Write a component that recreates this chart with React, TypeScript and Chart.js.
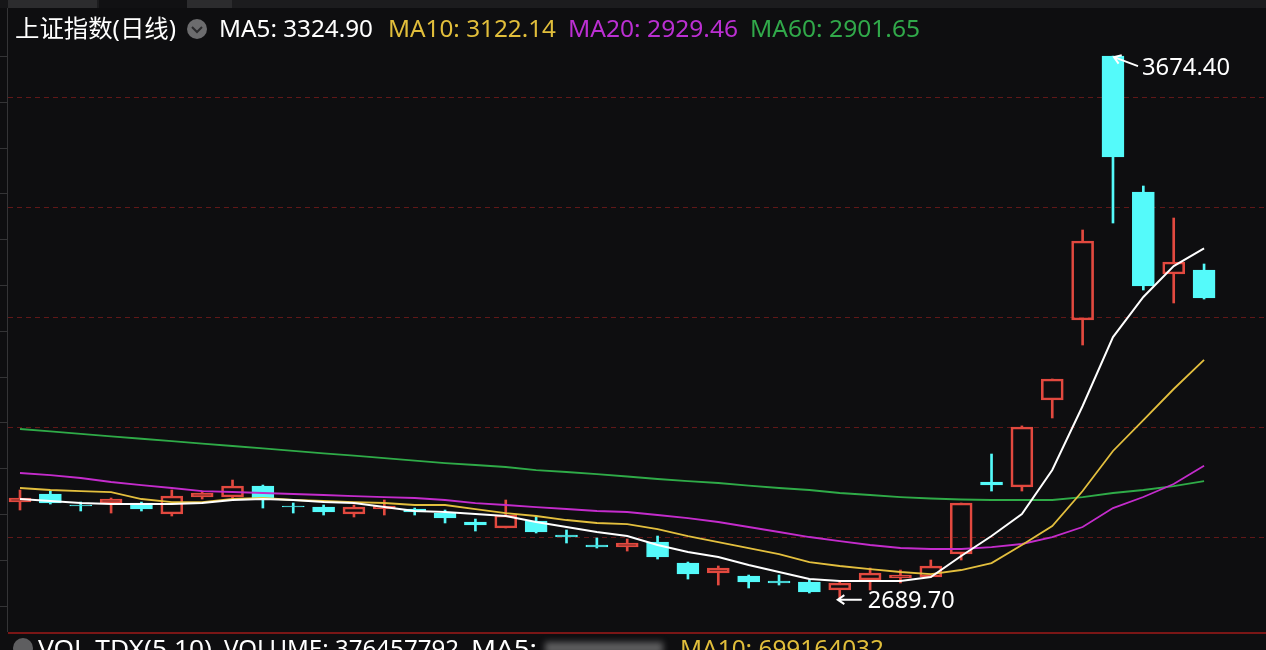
import React, { useEffect, useRef } from "react";
import { Chart, registerables } from "chart.js";

Chart.register(...registerables);

// ---- data (Shanghai Composite, daily) ----
const opens = [2863.6, 2878.2, 2858.2, 2861.8, 2861.8, 2841.8, 2872.7, 2872.7, 2892.7, 2856.4, 2854.5, 2841.8, 2850.9, 2850.9, 2843.6, 2827.3, 2816.4, 2829.1, 2803.6, 2785.5, 2781.8, 2790.9, 2752.7, 2734.5, 2729.1, 2720.0, 2718.2, 2703.6, 2721.8, 2725.5, 2727.3, 2769.1, 2900.0, 2890.9, 3049.1, 3194.5, 3674.4, 3427.3, 3278.2, 3285.5];
const highs = [2885.5, 2883.6, 2863.6, 2870.9, 2863.6, 2885.5, 2883.6, 2903.6, 2894.5, 2861.8, 2858.2, 2858.2, 2867.3, 2852.7, 2849.1, 2832.7, 2867.3, 2838.2, 2812.7, 2798.2, 2796.4, 2801.8, 2754.5, 2747.3, 2730.9, 2730.9, 2721.8, 2720.0, 2743.6, 2740.0, 2758.2, 2861.8, 2950.9, 3002.0, 3087.3, 3358.2, 3674.4, 3438.2, 3380.0, 3296.4];
const lows = [2849.1, 2860.0, 2847.3, 2843.6, 2847.3, 2838.2, 2869.1, 2870.9, 2852.7, 2843.6, 2840.0, 2836.4, 2840.0, 2840.0, 2825.5, 2810.9, 2816.4, 2807.3, 2789.1, 2780.0, 2774.5, 2760.0, 2723.6, 2712.7, 2707.3, 2712.7, 2698.2, 2689.7, 2703.6, 2716.4, 2727.3, 2758.2, 2883.6, 2883.6, 3016.4, 3149.1, 3370.9, 3249.1, 3225.5, 3232.7];
const closes = [2870.9, 2861.8, 2856.4, 2869.1, 2850.9, 2874.5, 2880.0, 2892.7, 2869.1, 2854.5, 2845.5, 2854.5, 2856.4, 2845.5, 2834.5, 2821.8, 2840.0, 2809.1, 2800.0, 2781.8, 2789.1, 2763.6, 2732.7, 2743.6, 2718.2, 2716.4, 2700.0, 2716.4, 2734.5, 2730.9, 2747.3, 2861.8, 2894.5, 3000.0, 3087.3, 3338.2, 3490.9, 3256.4, 3300.0, 3234.5];

const ma5 = [2869.1, 2865.5, 2861.8, 2860.0, 2860.0, 2860.0, 2861.8, 2867.3, 2869.1, 2867.3, 2863.6, 2861.8, 2854.5, 2847.3, 2845.5, 2841.8, 2838.2, 2827.3, 2818.2, 2809.1, 2801.8, 2785.5, 2772.7, 2763.6, 2749.1, 2736.4, 2723.6, 2720.0, 2720.0, 2720.0, 2727.3, 2765.5, 2801.8, 2841.8, 2921.8, 3038.2, 3163.6, 3236.4, 3292.7, 3324.90];
const ma10 = [2889.1, 2885.5, 2883.6, 2881.8, 2869.1, 2863.6, 2863.6, 2869.1, 2870.9, 2867.3, 2865.5, 2863.6, 2861.8, 2858.2, 2858.2, 2850.9, 2843.6, 2838.2, 2830.9, 2825.5, 2823.6, 2814.5, 2801.8, 2790.9, 2780.0, 2769.1, 2754.5, 2747.3, 2741.8, 2736.4, 2732.7, 2740.0, 2752.7, 2785.5, 2820.0, 2883.6, 2956.4, 3012.7, 3069.1, 3122.14];
const ma20 = [2916.4, 2912.7, 2907.3, 2900.0, 2894.5, 2889.1, 2883.6, 2881.8, 2880.0, 2878.2, 2876.4, 2874.5, 2872.7, 2870.9, 2867.3, 2861.8, 2858.2, 2854.5, 2850.9, 2847.3, 2845.5, 2840.0, 2834.5, 2827.3, 2818.2, 2809.1, 2800.0, 2792.7, 2785.5, 2780.0, 2778.2, 2778.2, 2781.8, 2787.3, 2800.0, 2818.2, 2852.7, 2872.7, 2896.4, 2929.46];
const ma60 = [2996.4, 2992.0, 2987.5, 2983.1, 2978.7, 2974.2, 2969.8, 2965.5, 2961.1, 2956.7, 2952.2, 2947.8, 2943.5, 2938.9, 2934.5, 2930.9, 2927.3, 2921.8, 2918.2, 2914.5, 2910.0, 2905.5, 2901.8, 2898.2, 2893.6, 2889.1, 2885.5, 2880.0, 2876.4, 2872.7, 2870.0, 2868.2, 2867.3, 2867.3, 2867.3, 2872.7, 2880.0, 2885.5, 2892.7, 2901.65];

const gridLevels = [2800, 3000, 3200, 3400, 3600];
const titleText = "上证指数(日线)";
const maNames = ["MA5", "MA10", "MA20", "MA60"];
const volLabels = ["VOL-TDX(5,10)", "VOLUME: 376457792", "MA5:", "MA10: 699164032"];

// ---- styles / layout ----
const BG = "#0e0e10";
const UP = "#e2493f";
const DOWN = "#54fafa";
const MA_COLORS = ["#ffffff", "#e3bf3e", "#c42ccc", "#2fab48"];
const MA_TEXT_COLORS = ["#ffffff", "#e1be3b", "#bb2fd2", "#31a94a"];
const FONT = '24px "Noto Sans", "Noto Sans CJK SC", sans-serif';
const W = 1266;
const H = 650;

function fitText(ctx: CanvasRenderingContext2D, text: string, x: number, y: number, w: number, color: string) {
  ctx.save();
  ctx.font = FONT;
  ctx.fillStyle = color;
  ctx.textBaseline = "alphabetic";
  ctx.textAlign = "left";
  const m = ctx.measureText(text).width;
  ctx.translate(x, y);
  ctx.scale(w / m, 1);
  ctx.fillText(text, 0, 0);
  ctx.restore();
}

function arrow(ctx: CanvasRenderingContext2D, tx: number, ty: number, fx: number, fy: number) {
  ctx.save();
  ctx.strokeStyle = "#ffffff";
  ctx.lineWidth = 2;
  ctx.beginPath();
  ctx.moveTo(fx, fy);
  ctx.lineTo(tx, ty);
  const a = Math.atan2(fy - ty, fx - tx);
  const L = 8;
  ctx.moveTo(tx + L * Math.cos(a + 0.6), ty + L * Math.sin(a + 0.6));
  ctx.lineTo(tx, ty);
  ctx.lineTo(tx + L * Math.cos(a - 0.6), ty + L * Math.sin(a - 0.6));
  ctx.stroke();
  ctx.restore();
}

const decorPlugin = {
  id: "decor",
  beforeDraw(chart: any) {
    const ctx = chart.ctx as CanvasRenderingContext2D;
    ctx.save();
    ctx.fillStyle = BG;
    ctx.fillRect(0, 0, W, H);
    // top tab strip
    ctx.fillStyle = "#1c1c1e";
    ctx.fillRect(0, 0, W, 8);
    ctx.fillStyle = "#2c2c2e";
    ctx.fillRect(8, 0, 89, 8);
    ctx.fillRect(187, 0, 45, 8);
    ctx.fillStyle = "#111113";
    ctx.fillRect(99, 0, 88, 8);
    ctx.fillStyle = "#161618";
    ctx.fillRect(0, 0, 8, 8);
    // left axis line + ticks
    ctx.fillStyle = "#343436";
    ctx.fillRect(7, 8, 1, 624);
    for (let y = 56; y < 630; y += 45.8) ctx.fillRect(0, Math.round(y), 7, 1);
    ctx.restore();
  },
  beforeDatasetsDraw(chart: any) {
    const ctx = chart.ctx as CanvasRenderingContext2D;
    const y = chart.scales.y;
    const area = chart.chartArea;
    ctx.save();
    ctx.strokeStyle = "#601818";
    ctx.lineWidth = 1;
    ctx.setLineDash([5, 4]);
    for (const v of gridLevels) {
      const py = Math.round(y.getPixelForValue(v)) + 0.5;
      ctx.beginPath();
      ctx.moveTo(area.left, py);
      ctx.lineTo(area.right, py);
      ctx.stroke();
    }
    ctx.restore();
  },
  afterDraw(chart: any) {
    const ctx = chart.ctx as CanvasRenderingContext2D;
    const xs = chart.scales.x;
    const ys = chart.scales.y;
    const area = chart.chartArea;

    // legend row
    fitText(ctx, titleText, 15, 37, 161, "#ffffff");
    ctx.save();
    ctx.fillStyle = "#6c6c6e";
    ctx.beginPath();
    ctx.arc(197, 29, 10, 0, Math.PI * 2);
    ctx.fill();
    ctx.strokeStyle = "#2a2a2c";
    ctx.lineWidth = 2;
    ctx.beginPath();
    ctx.moveTo(192, 27);
    ctx.lineTo(197, 32);
    ctx.lineTo(202, 27);
    ctx.stroke();
    ctx.restore();
    const maLast = [ma5, ma10, ma20, ma60].map((s) => s[s.length - 1]);
    const legendX = [219, 388, 568, 750];
    const legendW = [154, 168, 170, 170];
    maNames.forEach((n, i) => {
      fitText(ctx, `${n}: ${maLast[i].toFixed(2)}`, legendX[i], 37, legendW[i], MA_TEXT_COLORS[i]);
    });

    // max annotation
    let hiIdx = 0;
    highs.forEach((v, i) => { if (v > highs[hiIdx]) hiIdx = i; });
    const hx = xs.getPixelForValue(hiIdx);
    const hy = ys.getPixelForValue(highs[hiIdx]);
    arrow(ctx, hx + 1, hy + 1, hx + 25, hy + 10);
    fitText(ctx, highs[hiIdx].toFixed(2), hx + 29, hy + 19, 88, "#ffffff");

    // min annotation
    let loIdx = 0;
    lows.forEach((v, i) => { if (v < lows[loIdx]) loIdx = i; });
    const lx = xs.getPixelForValue(loIdx);
    const ly = ys.getPixelForValue(lows[loIdx]);
    arrow(ctx, lx - 2, ly + 2, lx + 22, ly + 2);
    fitText(ctx, lows[loIdx].toFixed(2), lx + 28, ly + 10, 87, "#ffffff");

    // bottom separator
    ctx.save();
    ctx.fillStyle = "#7a1616";
    ctx.fillRect(area.left, area.bottom, area.right - area.left, 2);
    ctx.restore();

    // volume panel header (cut off)
    ctx.save();
    ctx.fillStyle = "#5e5e60";
    ctx.beginPath();
    ctx.arc(23, 648, 10, 0, Math.PI * 2);
    ctx.fill();
    ctx.restore();
    const volX = [38, 224, 471, 680];
    const volW = [174, 235, 66, 204];
    const volC = ["#ffffff", "#ffffff", "#ffffff", "#e1be3b"];
    volLabels.forEach((t, i) => fitText(ctx, t, volX[i], 657, volW[i], volC[i]));
    ctx.save();
    ctx.filter = "blur(3px)";
    ctx.fillStyle = "rgba(190,190,190,0.45)";
    ctx.fillRect(545, 642, 118, 12);
    ctx.restore();
  },
};

export default function App() {
  const ref = useRef<HTMLCanvasElement | null>(null);

  useEffect(() => {
    if (!ref.current) return;
    const isUp = (i: number) => closes[i] >= opens[i];
    const col = (i: number) => (isUp(i) ? UP : DOWN);

    const lineDs = [ma5, ma10, ma20, ma60].map((s, k) => ({
      type: "line" as const,
      label: maNames[k],
      data: s.map((v, i) => ({ x: i, y: v })),
      borderColor: MA_COLORS[k],
      borderWidth: k === 0 ? 2 : 1.8,
      pointRadius: 0,
      tension: 0,
      fill: false,
      order: k,
    }));

    const bodies = {
      type: "bar" as const,
      label: "body",
      data: opens.map((o, i) => ({ x: i, y: [o, closes[i]] })),
      backgroundColor: opens.map((_, i) => (isUp(i) ? "rgba(0,0,0,0)" : DOWN)),
      borderColor: opens.map((_, i) => col(i)),
      borderWidth: opens.map((_, i) => (isUp(i) ? 2 : 1)),
      borderSkipped: false,
      barThickness: 22,
      grouped: false,
      order: 10,
    };
    const upperWicks = {
      type: "bar" as const,
      label: "upper",
      data: opens.map((o, i) => ({ x: i, y: [Math.max(o, closes[i]), highs[i]] })),
      backgroundColor: opens.map((_, i) => col(i)),
      borderWidth: 0,
      barThickness: 2,
      grouped: false,
      order: 11,
    };
    const lowerWicks = {
      type: "bar" as const,
      label: "lower",
      data: opens.map((o, i) => ({ x: i, y: [lows[i], Math.min(o, closes[i])] })),
      backgroundColor: opens.map((_, i) => col(i)),
      borderWidth: 0,
      barThickness: 2,
      grouped: false,
      order: 12,
    };

    const chart = new Chart(ref.current, {
      type: "bar",
      data: { datasets: [...lineDs, bodies, upperWicks, lowerWicks] as any },
      options: {
        animation: false,
        responsive: false,
        devicePixelRatio: 1,
        events: [],
        layout: { padding: { left: 8, top: 10, right: 0, bottom: 18 } },
        plugins: { legend: { display: false }, tooltip: { enabled: false }, title: { display: false } },
        scales: {
          x: { type: "linear", min: -0.3953, max: 41.04, display: false, offset: false },
          y: { type: "linear", min: 2627.3, max: 3758.2, display: false },
        },
      },
      plugins: [decorPlugin],
    });
    return () => chart.destroy();
  }, []);

  return (
    <div style={{ position: "fixed", left: 0, top: 0, width: W, height: H, background: BG }}>
      <canvas ref={ref} width={W} height={H} style={{ display: "block" }} />
    </div>
  );
}
